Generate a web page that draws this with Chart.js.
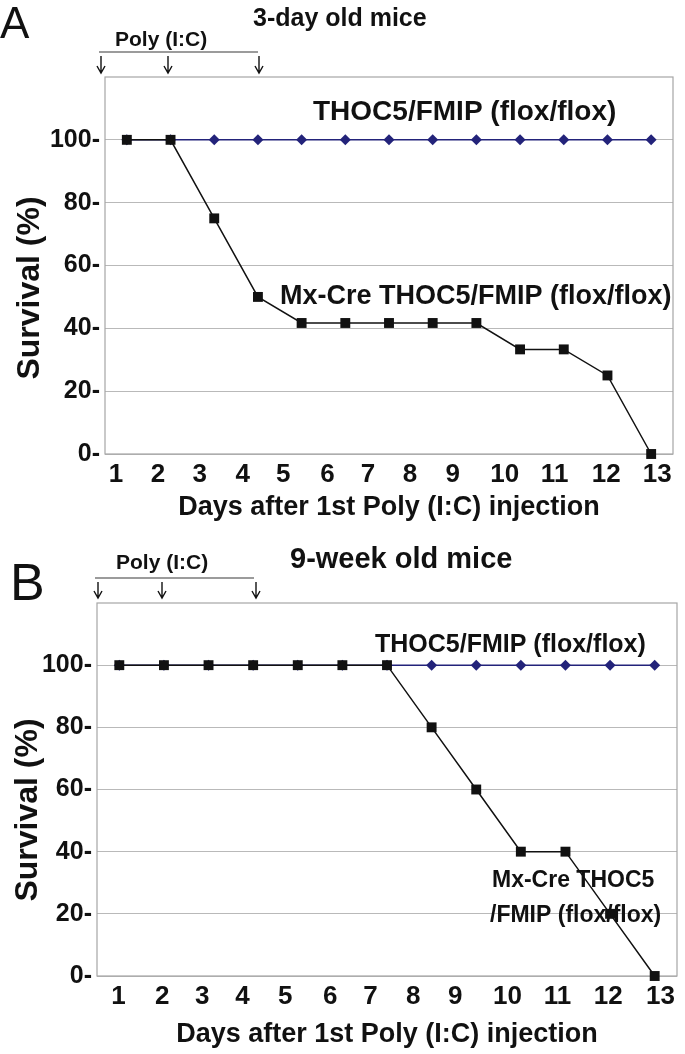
<!DOCTYPE html>
<html>
<head>
<meta charset="utf-8">
<script src="https://cdn.jsdelivr.net/npm/chart.js@4/dist/chart.umd.min.js"></script>
<style>
    html, body { margin: 0; padding: 0; background: #fff; }
    .panel { position: relative; width: 685px; height: 527px; }
</style>
</head>
<body>
<div class="panel"><canvas id="chartA" width="685" height="527"></canvas></div>
<div class="panel"><canvas id="chartB" width="685" height="527"></canvas></div>
<script>
// =====================================
// Data
// =====================================
const days = [1, 2, 3, 4, 5, 6, 7, 8, 9, 10, 11, 12, 13];
const xTickLabels = ["1", "2", "3", "4", "5", "6", "7", "8", "9", "10", "11", "12", "13"];
// where the day labels sit along the axis (they are not evenly spaced in the figure)
const xTickPosA = [0.75, 1.71, 2.67, 3.65, 4.58, 5.59, 6.52, 7.48, 8.46, 9.65, 10.79, 11.97, 13.14];
const xTickPosB = [0.98, 1.96, 2.86, 3.76, 4.72, 5.73, 6.63, 7.59, 8.53, 9.70, 10.82, 11.96, 13.13];
const yTicks = [0, 20, 40, 60, 80, 100];

// 3-day old mice
const floxA = [100, 100, 100, 100, 100, 100, 100, 100, 100, 100, 100, 100, 100];
const mxCreA = [100, 100, 75, 50, 41.7, 41.7, 41.7, 41.7, 41.7, 33.3, 33.3, 25, 0];

// 9-week old mice
const floxB = [100, 100, 100, 100, 100, 100, 100, 100, 100, 100, 100, 100, 100];
const mxCreB = [100, 100, 100, 100, 100, 100, 100, 80, 60, 40, 40, 20, 0];

const FONT = "'Liberation Sans', Arial, sans-serif";
const BLUE = "#23237a";
const BLACK = "#111111";

// =====================================
// Annotation plugin (frame, titles, arrows, line labels)
// =====================================
const annotatePlugin = {
    id: "annotate",
    beforeDatasetsDraw(chart) {
        const a = chart.chartArea;
        const ctx = chart.ctx;
        ctx.save();
        ctx.strokeStyle = "#a6a6a6";
        ctx.lineWidth = 1.2;
        ctx.strokeRect(a.left, a.top, a.right - a.left, a.bottom - a.top);
        ctx.restore();
    },
    afterDraw(chart) {
        const cfg = chart.options.plugins.annotate;
        const ctx = chart.ctx;
        ctx.save();
        ctx.fillStyle = BLACK;

        // panel letter
        ctx.textBaseline = "alphabetic";
        ctx.textAlign = "left";
        ctx.font = `normal ${cfg.letter.size}px ${FONT}`;
        ctx.fillText(cfg.letter.text, cfg.letter.x, cfg.letter.y);

        // texts
        ctx.textBaseline = "middle";
        cfg.texts.forEach(t => {
            ctx.font = `bold ${t.size}px ${FONT}`;
            ctx.fillText(t.text, t.x, t.y);
        });

        // y-axis title
        ctx.save();
        ctx.translate(cfg.yTitle.x, cfg.yTitle.y);
        ctx.rotate(-Math.PI / 2);
        ctx.textAlign = "center";
        ctx.font = `bold 32px ${FONT}`;
        ctx.fillText("Survival (%)", 0, 0);
        ctx.restore();

        // Poly (I:C) bracket
        ctx.strokeStyle = "#7a7a7a";
        ctx.lineWidth = 1.5;
        ctx.beginPath();
        ctx.moveTo(cfg.bracket.x1, cfg.bracket.y);
        ctx.lineTo(cfg.bracket.x2, cfg.bracket.y);
        ctx.stroke();

        // injection arrows
        ctx.strokeStyle = BLACK;
        ctx.lineWidth = 1.4;
        cfg.arrows.xs.forEach(x => {
            ctx.beginPath();
            ctx.moveTo(x, cfg.arrows.y1);
            ctx.lineTo(x, cfg.arrows.y2);
            ctx.moveTo(x - 4, cfg.arrows.y2 - 7);
            ctx.lineTo(x, cfg.arrows.y2);
            ctx.lineTo(x + 4, cfg.arrows.y2 - 7);
            ctx.stroke();
        });
        ctx.restore();
    }
};

// =====================================
// Panel builder
// =====================================
function makePanel(canvasId, flox, mxCre, tickPos, layout, annotate) {
    const ctx = document.getElementById(canvasId).getContext("2d");
    return new Chart(ctx, {
        type: "line",
        data: {
            datasets: [
                {
                    label: "THOC5/FMIP (flox/flox)",
                    data: days.map((d, i) => ({ x: d, y: flox[i] })),
                    borderColor: BLUE,
                    backgroundColor: BLUE,
                    borderWidth: 1.5,
                    pointStyle: "rectRot",
                    pointRadius: 5.5,
                    pointBorderWidth: 0,
                    tension: 0,
                    clip: false,
                    order: 1
                },
                {
                    label: "Mx-Cre THOC5/FMIP (flox/flox)",
                    data: days.map((d, i) => ({ x: d, y: mxCre[i] })),
                    borderColor: BLACK,
                    backgroundColor: BLACK,
                    borderWidth: 1.5,
                    pointStyle: "rect",
                    pointRadius: 7,
                    pointBorderWidth: 0,
                    tension: 0,
                    clip: false,
                    order: 0
                }
            ]
        },
        options: {
            responsive: false,
            animation: false,
            events: [],
            layout: { padding: layout.padding },
            plugins: {
                legend: { display: false },
                tooltip: { enabled: false },
                annotate: annotate
            },
            scales: {
                x: {
                    type: "linear",
                    min: 0.5,
                    max: 13.5,
                    grid: { display: false, drawTicks: false },
                    border: { display: false },
                    afterBuildTicks: scale => {
                        scale.ticks = tickPos.map(v => ({ value: v }));
                    },
                    afterFit: scale => { scale.height = layout.xHeight; },
                    ticks: {
                        autoSkip: false,
                        maxRotation: 0,
                        padding: 5,
                        color: BLACK,
                        font: { family: FONT, size: 26, weight: "bold" },
                        callback: (value, index) => xTickLabels[index]
                    },
                    title: {
                        display: true,
                        text: "Days after 1st Poly (I:C) injection",
                        color: BLACK,
                        font: { family: FONT, size: 27, weight: "bold" },
                        padding: { top: 0, bottom: layout.titlePad }
                    }
                },
                y: {
                    min: 0,
                    max: 120,
                    grid: { color: "#b9b9b9", lineWidth: 1, drawTicks: false },
                    border: { display: false },
                    afterBuildTicks: scale => {
                        scale.ticks = yTicks.map(v => ({ value: v }));
                    },
                    afterFit: scale => { scale.width = layout.yWidth; },
                    ticks: {
                        padding: 5,
                        color: BLACK,
                        font: { family: FONT, size: 25, weight: "bold" },
                        callback: value => value + "-"
                    }
                }
            }
        },
        plugins: [annotatePlugin]
    });
}

makePanel("chartA", floxA, mxCreA, xTickPosA,
    { padding: { top: 77, right: 12, left: 0, bottom: 0 }, xHeight: 73, yWidth: 105, titlePad: 3 },
    {
        letter: { text: "A", x: 0, y: 38, size: 44 },
        texts: [
            { text: "3-day old mice", x: 253, y: 19, size: 25 },
            { text: "Poly (I:C)", x: 115, y: 40, size: 21 },
            { text: "THOC5/FMIP (flox/flox)", x: 313, y: 112, size: 28 },
            { text: "Mx-Cre THOC5/FMIP (flox/flox)", x: 280, y: 297, size: 27 }
        ],
        yTitle: { x: 30, y: 288 },
        bracket: { x1: 99, x2: 258, y: 52 },
        arrows: { xs: [101, 168, 259], y1: 56, y2: 73 }
    });

makePanel("chartB", floxB, mxCreB, xTickPosB,
    { padding: { top: 76, right: 8, left: 0, bottom: 0 }, xHeight: 78, yWidth: 97, titlePad: 3 },
    {
        letter: { text: "B", x: 10, y: 73, size: 52 },
        texts: [
            { text: "9-week old mice", x: 290, y: 33, size: 29 },
            { text: "Poly (I:C)", x: 116, y: 36, size: 21 },
            { text: "THOC5/FMIP (flox/flox)", x: 375, y: 118, size: 25 },
            { text: "Mx-Cre THOC5", x: 492, y: 354, size: 23 },
            { text: "/FMIP (flox/flox)", x: 490, y: 389, size: 23 }
        ],
        yTitle: { x: 28, y: 283 },
        bracket: { x1: 95, x2: 254, y: 51 },
        arrows: { xs: [98, 162, 256], y1: 55, y2: 71 }
    });
</script>
</body>
</html>
